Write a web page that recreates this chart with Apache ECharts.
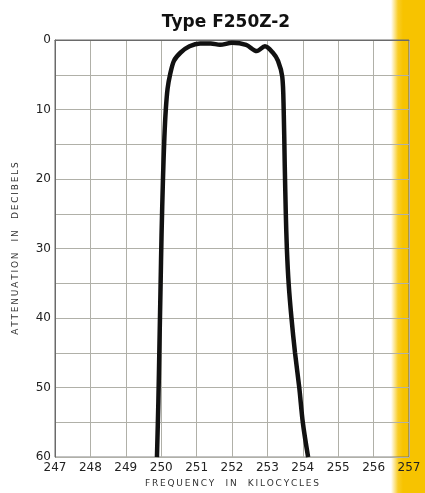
<!DOCTYPE html>
<html>
<head>
<meta charset="utf-8">
<script src="https://cdn.jsdelivr.net/npm/echarts@6/dist/echarts.min.js"></script>
<style>
html,body{margin:0;padding:0;background:#fff;}
#wrap{position:relative;width:425px;height:493px;overflow:hidden;}
#strip{position:absolute;left:391px;top:0;width:34px;height:493px;
  background:linear-gradient(to right, rgba(248,196,0,0) 0px, rgba(248,196,0,0.85) 7px, #F7C300 12px, #F7C300 100%);}
#c{position:absolute;left:0;top:0;width:425px;height:493px;}
</style>
</head>
<body>
<div id="wrap"><div id="strip"></div><div id="c"></div></div>
<script>
var titleText = "Type F250Z-2";
var xName = "FREQUENCY  IN  KILOCYCLES";
var yName = "ATTENUATION  IN  DECIBELS";
var frequency   = [249.88, 249.92, 249.95, 249.98, 250.01, 250.05, 250.09, 250.13, 250.18, 250.25, 250.36, 250.55, 250.8, 251.1, 251.4, 251.66, 252.0, 252.4, 252.7, 252.93, 253.15, 253.3, 253.42, 253.46, 253.49, 253.52, 253.55, 253.6, 253.68, 253.78, 253.9, 254.0, 254.15];
var attenuation = [60, 52, 44, 36, 28, 20, 14, 10, 7, 5, 3, 1.8, 0.9, 0.5, 0.5, 0.7, 0.4, 0.7, 1.6, 0.9, 1.8, 3, 5.3, 10, 18, 25, 30, 35, 40, 45, 50, 55, 60];
var xTicks = [247, 248, 249, 250, 251, 252, 253, 254, 255, 256, 257];
var yTicks = [0, 10, 20, 30, 40, 50, 60];

function spaced(s){ return s.split('').join('\u2009'); }
var pts = frequency.map(function(f, i){ return [f, attenuation[i]]; });
var chart = echarts.init(document.getElementById('c'), null, {renderer:'canvas'});
var font = "'DejaVu Sans', sans-serif";
chart.setOption({
  backgroundColor: 'transparent',
  animation: false,
  title: {
    text: titleText, left: 221, top: 9, textAlign: 'center',
    textStyle: {fontFamily: "'DejaVu Sans', sans-serif", fontWeight: 'bold', fontSize: 17, color: '#111'}
  },
  grid: {left: 55, right: 16, top: 40, bottom: 25, show: true, borderColor: '#6a6a6a', borderWidth: 1, backgroundColor: 'transparent'},
  xAxis: {
    type: 'value', min: 247, max: 257, interval: 1,
    name: spaced(xName), nameLocation: 'middle', nameGap: 20,
    nameTextStyle: {fontFamily: font, fontSize: 9, color: '#333'},
    axisLine: {show: true, lineStyle: {color: '#6a6a6a'}},
    axisTick: {show: false},
    splitLine: {show: true, lineStyle: {color: '#b0b0a8', width: 1}},
    axisLabel: {
      fontFamily: font, fontSize: 12, color: function(v){ return v === 257 ? '#8a2a00' : '#222'; },
      margin: 5,
      formatter: function(v){ return xTicks.indexOf(v) >= 0 ? String(v) : ''; }
    }
  },
  yAxis: {
    type: 'value', min: 0, max: 60, interval: 5, inverse: true,
    name: spaced(yName), nameLocation: 'middle', nameGap: 35, nameRotate: 90,
    nameTextStyle: {fontFamily: font, fontSize: 9, color: '#333'},
    axisLine: {show: true, lineStyle: {color: '#6a6a6a'}},
    axisTick: {show: false},
    splitLine: {show: true, lineStyle: {color: '#b0b0a8', width: 1}},
    axisLabel: {
      fontFamily: font, fontSize: 12, color: '#222', margin: 4,
      formatter: function(v){ return yTicks.indexOf(v) >= 0 ? String(v) : ''; }
    }
  },
  series: [{
    type: 'line', data: pts, smooth: 0.3, showSymbol: false,
    lineStyle: {color: '#111', width: 4.5}
  }]
});
</script>
</body>
</html>
